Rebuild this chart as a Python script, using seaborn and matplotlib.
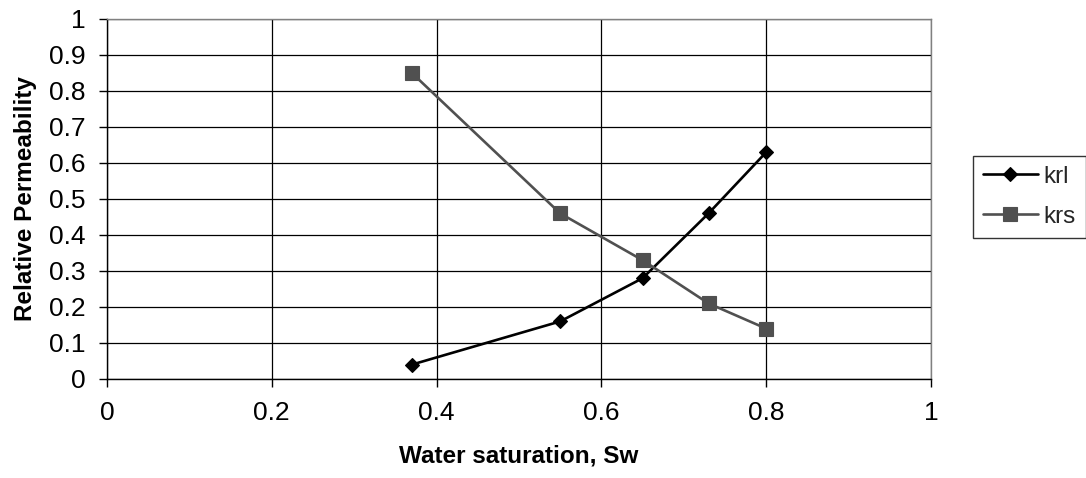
import numpy as np
import pandas as pd
import matplotlib
matplotlib.use("Agg")
import matplotlib.pyplot as plt
from matplotlib.ticker import FuncFormatter
import seaborn as sns

# Relative permeability measurements
water_saturation = [0.37, 0.55, 0.65, 0.73, 0.80]
krl = [0.04, 0.16, 0.28, 0.46, 0.63]
krs = [0.85, 0.46, 0.33, 0.21, 0.14]
series_names = ["krl", "krs"]

x_ticks = [0, 0.2, 0.4, 0.6, 0.8, 1.0]
y_ticks = [round(v * 0.1, 1) for v in range(11)]

df = pd.DataFrame({
    "Sw": water_saturation * 2,
    "kr": krl + krs,
    "series": [series_names[0]] * len(krl) + [series_names[1]] * len(krs),
})

sns.set_theme(style="white")
plt.rcParams["font.family"] = ["Liberation Sans", "DejaVu Sans"]

fig = plt.figure(figsize=(10.86, 4.78), dpi=100)
ax = fig.add_axes([107 / 1086, 1 - 379 / 478, 824 / 1086, 360 / 478])

colors = {"krl": "#000000", "krs": "#505050"}
line_w = 1.9
sns.lineplot(
    data=df, x="Sw", y="kr", hue="series", style="series",
    markers={"krl": "D", "krs": "s"}, dashes=False,
    palette=colors, linewidth=line_w, ax=ax, legend=True,
)

sizes = {"krl": 7.4, "krs": 10.2}
for line in ax.lines:
    c = line.get_color()
    line.set_markeredgecolor(c)
    line.set_markerfacecolor(c)
    line.set_markeredgewidth(0.8)
    line.set_zorder(5)
for line, name in zip(ax.lines[:2], series_names):
    line.set_markersize(sizes[name])

ax.set_xlim(0, 1)
ax.set_ylim(0, 1)
ax.set_xticks(x_ticks)
ax.set_yticks(y_ticks)
fmt = FuncFormatter(lambda v, p: f"{v:g}")
ax.xaxis.set_major_formatter(fmt)
ax.yaxis.set_major_formatter(fmt)

ax.grid(True, color="#000000", linewidth=0.9)
ax.set_axisbelow(True)
for side in ["left", "bottom"]:
    ax.spines[side].set_color("#000000")
    ax.spines[side].set_linewidth(1.0)
for side in ["top", "right"]:
    ax.spines[side].set_color("#808080")
    ax.spines[side].set_linewidth(1.0)

ax.tick_params(axis="both", which="major", direction="out", length=6,
               width=1, color="#000000", labelsize=19, labelcolor="#000000")
ax.tick_params(axis="y", pad=9.4)
ax.tick_params(axis="x", pad=10)
ax.tick_params(left=True, bottom=True)

ax.set_xlabel("Water saturation, Sw", fontsize=17.5, fontweight="bold", color="#000000")
ax.set_ylabel("Relative Permeability", fontsize=17.5, fontweight="bold", color="#000000")
ax.xaxis.set_label_coords(0.5, -0.183)
ax.yaxis.set_label_coords(-0.085, 0.5)

handles, labels = ax.get_legend_handles_labels()
if ax.legend_:
    ax.legend_.remove()
leg = fig.legend(
    handles, labels, loc="upper left",
    bbox_to_anchor=(973 / 1086, 1 - 156 / 478), bbox_transform=fig.transFigure,
    fontsize=17.5, frameon=True, fancybox=False, shadow=False,
    borderpad=0.4, borderaxespad=0, handlelength=2.26, handletextpad=0.25,
    labelspacing=0.75,
)
leg.get_frame().set_edgecolor("#000000")
leg.get_frame().set_linewidth(1.0)
for h, name in zip(leg.legend_handles, series_names):
    h.set_markersize(sizes[name])
    h.set_markeredgecolor(colors[name])
    h.set_markerfacecolor(colors[name])
    h.set_linewidth(line_w)

fig.savefig("out.png", dpi=100)
